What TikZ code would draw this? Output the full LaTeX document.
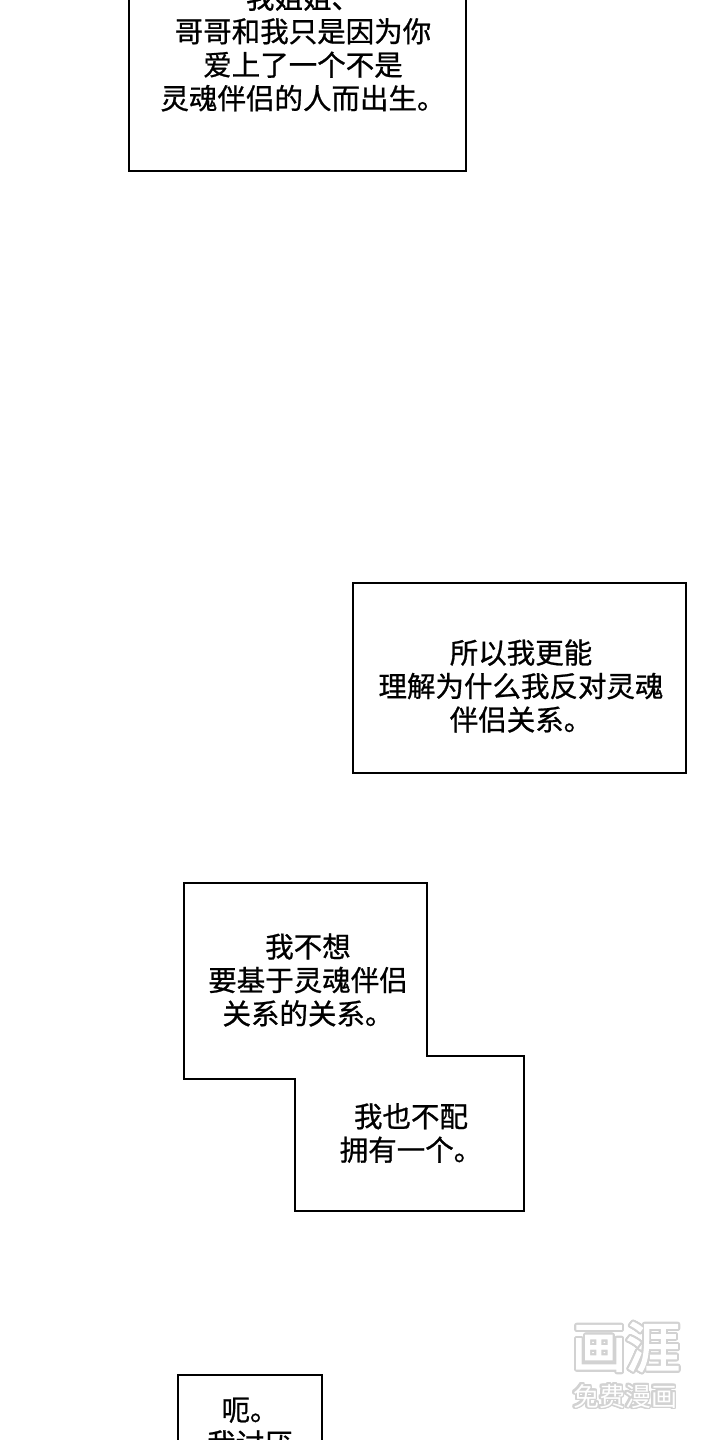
\documentclass[tikz,border=0pt]{standalone}
\usepackage{fontspec}
\usepackage{contour}
\newfontfamily\cjk[FakeBold=0.8]{Noto Sans CJK SC}
\newfontfamily\cjkbold[FakeBold=2.5]{Noto Sans CJK SC}
\newfontfamily\cjkwm{Noto Sans CJK SC}
\contournumber{24}
\tikzset{
  panel/.style={draw=black, line width=1.8pt, fill=white, line join=miter},
  says/.style={font=\cjk\fontsize{28.5}{33.5}\selectfont, align=center, inner sep=0pt, text=black},
  wmbig/.style={font=\cjkbold\fontsize{54}{54}\selectfont, inner sep=0pt, text=white},
  wmsmall/.style={font=\cjkwm\fontsize{26}{26}\selectfont, inner sep=0pt, text=white},
}
\begin{document}
\begin{tikzpicture}[x=1pt,y=-1pt]
\useasboundingbox (0,0) rectangle (720,1440);
\fill[white] (0,0) rectangle (720,1440);
\clip (0,0) rectangle (720,1440);

% panel 1 (top, cut off)
\draw[panel] (129,-10) rectangle (466,171);
\node[says] (t1) at (303,48) {我姐姐、\\哥哥和我只是因为你\\爱上了一个不是\\灵魂伴侣的人而出生。};

% panel 2
\draw[panel] (353,583) rectangle (686,773);
\node[says] (t2) at (521,686) {所以我更能\\理解为什么我反对灵魂\\伴侣关系。};

% panel 3 (merged shape)
\draw[panel] (184,883) -- (427,883) -- (427,1056) -- (524,1056) -- (524,1211)
  -- (295,1211) -- (295,1079) -- (184,1079) -- cycle;
\node[says] (t3) at (308,980) {我不想\\要基于灵魂伴侣\\关系的关系。};
\node[says] (t4) at (411,1133) {我也不配\\拥有一个。};

% panel 4 (bottom, cut off)
\draw[panel] (178,1375) rectangle (322,1460);
\node[says] (t5) at (250,1427) {呃。\\我讨厌};

% watermark
\node[wmbig] (wm1) at (626,1348) {\contourlength{2pt}\contour{gray!35}{画涯}};
\node[wmsmall] (wm2) at (625,1397) {\contourlength{1.6pt}\contour{gray!35}{免费漫画}};
\end{tikzpicture}
\end{document}
